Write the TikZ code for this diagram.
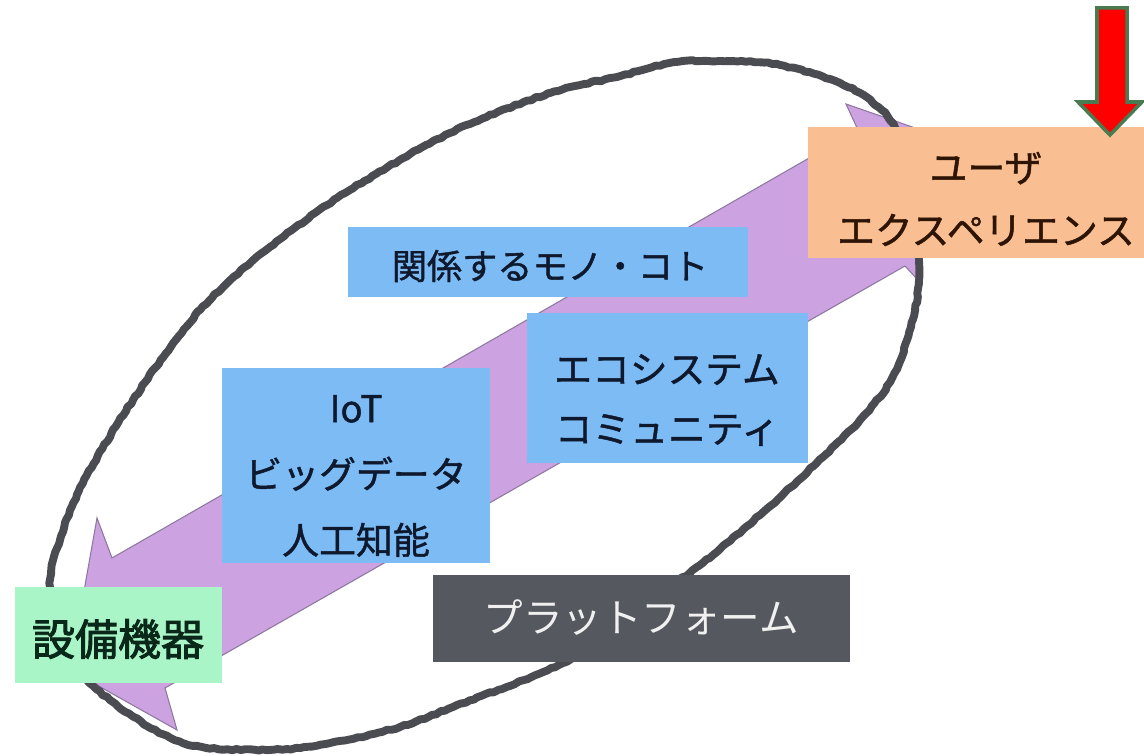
\documentclass[tikz,border=0pt]{standalone}
\usepackage{fontspec}
\setmainfont{Noto Sans CJK JP}
\newfontfamily\jpmed[FakeBold=1.2]{Noto Sans CJK JP}
\newfontfamily\jpbold[FakeBold=2.2]{Noto Sans CJK JP}
\usetikzlibrary{decorations.pathmorphing}
\definecolor{boxblue}{RGB}{125,187,245}
\definecolor{boxgreen}{RGB}{170,245,200}
\definecolor{boxorange}{RGB}{249,190,145}
\definecolor{boxgray}{RGB}{85,89,95}
\definecolor{arrowpurple}{RGB}{205,162,225}
\definecolor{arrowedge}{RGB}{140,120,160}
\definecolor{ringgray}{RGB}{75,75,82}
\definecolor{redgreen}{RGB}{74,122,80}
\definecolor{txtblue}{RGB}{15,25,45}
\definecolor{txtgreen}{RGB}{10,40,25}
\definecolor{txtbrown}{RGB}{45,20,5}
\tikzset{
  panel/.style={inner sep=0pt},
  bluebox/.style={panel, fill=boxblue},
  txt/.style={inner sep=0pt, align=center},
  bluetxt/.style={txt, text=txtblue},
}
\begin{document}
\begin{tikzpicture}[x=0.02cm,y=-0.02cm]
\useasboundingbox (0,0) rectangle (1144,756);
\fill[white] (0,0) rectangle (1144,756);
% broad double arrow
\coordinate (T1) at (70,670);
\coordinate (B1) at (97,518);
\coordinate (N1) at (112,558);
\coordinate (N2) at (858,130);
\coordinate (B2) at (846,104);
\coordinate (T2) at (944,138);
\coordinate (B3) at (916,278);
\coordinate (N3) at (905,266);
\coordinate (N4) at (165,688);
\coordinate (B4) at (177,730);
\draw[fill=arrowpurple, draw=arrowedge, line width=0.6pt, line join=miter]
  (T1) -- (B1) -- (N1) -- (N2) -- (B2) -- (T2) -- (B3) -- (N3) -- (N4) -- (B4) -- cycle;
% hand-drawn ring
\pgfmathsetseed{7}
\draw[ringgray, line width=4.5pt, line join=round,
      decorate, decoration={random steps, segment length=2.5pt, amplitude=0.45pt}]
  plot[smooth cycle, tension=0.55] coordinates {
   (50,587) (60,540) (83,483) (133,400) (200,310) (270,247) (350,190)
   (450,133) (550,93) (617,77) (670,63) (720,61) (780,65) (840,83)
   (872,102) (895,128) (912,190) (919,280) (907,340) (890,382)
   (860,420) (823,457) (760,515) (700,565) (630,615) (563,663) (453,707)
   (400,727) (330,743) (267,750) (183,743) (110,700) (68,655)};
% panels
\node[bluebox, minimum width=8cm, minimum height=1.4cm] (rel) at (548,262) {};
\node[bluebox, minimum width=5.62cm, minimum height=3cm] (eco) at (667.5,388) {};
\node[bluebox, minimum width=5.36cm, minimum height=3.9cm] (iot) at (356,465.5) {};
\node[panel, fill=boxgreen, minimum width=4.14cm, minimum height=1.92cm] (dev) at (118.5,635) {};
\node[panel, fill=boxgray, minimum width=8.34cm, minimum height=1.74cm] (plat) at (641.5,618.5) {};
\node[panel, fill=boxorange, minimum width=6.72cm, minimum height=2.62cm] (ux) at (976,192.5) {};
% texts
\node[bluetxt, font=\jpmed\fontsize{20}{28}\selectfont] (relT) at (550,266) {関係するモノ・コト};
\node[bluetxt, font=\jpmed\fontsize{21.5}{34}\selectfont] (ecoT) at (667,400) {エコシステム\\コミュニティ};
\node[bluetxt, font=\jpmed\fontsize{21}{37.5}\selectfont] (iotT) at (356,476) {IoT\\ビッグデータ\\人工知能};
\node[txt, text=txtgreen, font=\jpbold\fontsize{24.5}{30}\selectfont] (devT) at (118,639) {設備機器};
\node[txt, text=white!94!black, font=\fontsize{22.5}{30}\selectfont] (platT) at (641,618) {プラットフォーム};
\node[txt, text=txtbrown, font=\jpmed\fontsize{21.5}{35.5}\selectfont] (uxT) at (986,199) {ユーザ\\エクスペリエンス};
% red arrow
\draw[fill=red, draw=redgreen, line width=2pt, line join=miter]
  (1097,8) -- (1127,8) -- (1127,102) -- (1142,102) -- (1110,135) -- (1078,102) -- (1097,102) -- cycle;
\end{tikzpicture}
\end{document}
